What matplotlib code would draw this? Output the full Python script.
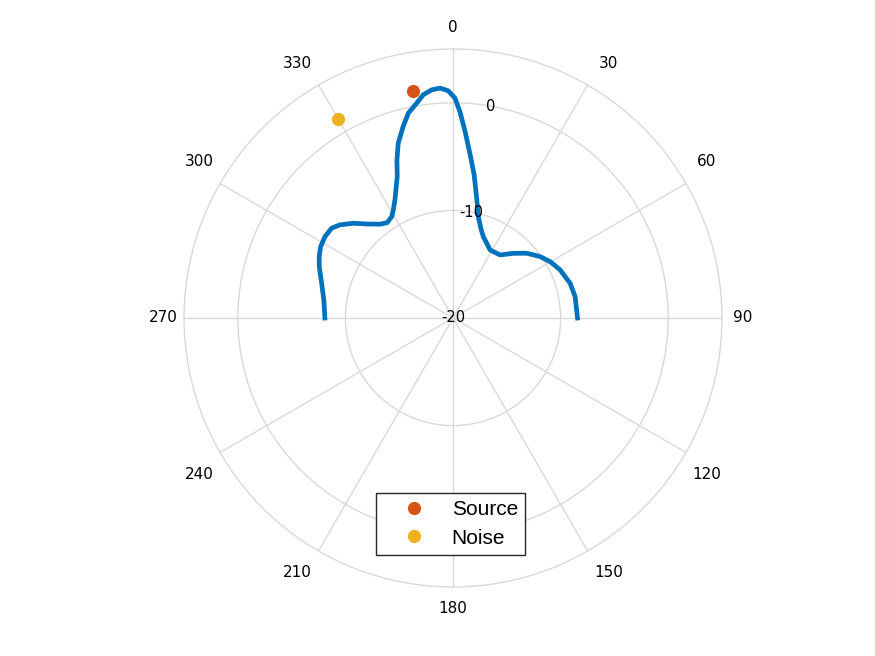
import numpy as np
import matplotlib
matplotlib.use('Agg')
import matplotlib.pyplot as plt

# beam pattern (degrees from north, clockwise; dB)
angle_deg = [-90, -82.1, -75.2, -69.0, -65.4, -61.7, -57.6, -53.5, -50.5, -46.5,
             -42.6, -37.9, -34.6, -31.2, -28.9, -26.2, -21.5, -19.6, -17.4, -14.6,
             -12.3, -9.6, -7.6, -5.3, -3.2, -1.2, 0.5, 1.9, 3.7, 6.0,
             8.4, 11.4, 14.0, 17.2, 20.4, 28.6, 36.7, 43.0, 48.7, 54.8,
             59.9, 65.8, 73.5, 80.1, 90]
pattern_db = [-8.09, -7.88, -7.37, -6.68, -6.32, -6.02, -5.90, -5.96, -6.39, -7.21,
              -8.13, -8.95, -9.23, -8.99, -8.52, -7.77, -5.85, -4.45, -2.97, -1.61,
              -0.51, 0.25, 0.93, 1.30, 1.40, 1.12, 0.44, -0.80, -2.63, -4.75,
              -6.56, -8.80, -10.29, -11.27, -11.93, -12.80, -12.69, -11.78, -10.88, -10.10,
              -9.56, -9.09, -8.65, -8.48, -8.43]

source_deg = [-10]
source_db = [1.4]
noise_deg = [-30]
noise_db = [1.4]

theta_ticks = [0, 30, 60, 90, 120, 150, 180, 210, 240, 270, 300, 330]
r_ticks = [-20, -10, 0]
r_min, r_max = -20, 5

fig = plt.figure(figsize=(8.75, 6.56), dpi=100)
ax = fig.add_axes([0.2103, 0.1052, 0.6149, 0.8201], projection='polar')
ax.set_theta_zero_location('N')
ax.set_theta_direction(-1)
ax.set_rlim(r_min, r_max)

grid_col = '#d9d9d9'
ax.set_thetagrids(theta_ticks, [''] * len(theta_ticks))
ax.set_rticks(r_ticks)
ax.set_yticklabels([])
ax.grid(True, color=grid_col, linewidth=1.0)
ax.spines['polar'].set_color(grid_col)
ax.spines['polar'].set_linewidth(1.0)
ax.tick_params(length=0)

ax.plot(np.deg2rad(angle_deg), pattern_db, color='#0072BD', linewidth=3.4,
        solid_joinstyle='round', zorder=3)
ax.plot(np.deg2rad(source_deg), source_db, 'o', color='#D95319', markersize=8.5,
        label='Source', zorder=4)
ax.plot(np.deg2rad(noise_deg), noise_db, 'o', color='#EDB120', markersize=8.5,
        label='Noise', zorder=4)

# angle labels just outside the rim, nudged outward like matlab does
for t in theta_ticks:
    s, c = np.sin(np.deg2rad(t)), np.cos(np.deg2rad(t))
    dx = 0 if abs(s) < 1e-6 else 21 * np.sign(s)
    dy = 0 if abs(c) < 1e-6 else 22 * np.sign(c)
    ax.annotate(str(t), xy=(np.deg2rad(t), r_max), xytext=(dx, dy),
                textcoords='offset pixels', ha='center', va='center',
                fontsize=11, family='DejaVu Sans', annotation_clip=False)

# radius labels
for r in r_ticks:
    ax.text(np.deg2rad(10), r, str(r), ha='center', va='center', fontsize=10.5,
            family='DejaVu Sans', zorder=5)

leg = ax.legend(loc='center', bbox_to_anchor=(0.495, 0.117), fancybox=False,
                framealpha=1, edgecolor='#262626',
                prop={'family': 'Liberation Sans', 'size': 15},
                handlelength=3.0, handletextpad=0.3, borderpad=0.35, labelspacing=0.45,
                borderaxespad=0)
leg.get_frame().set_linewidth(1.0)

fig.savefig('out.png', dpi=100)
